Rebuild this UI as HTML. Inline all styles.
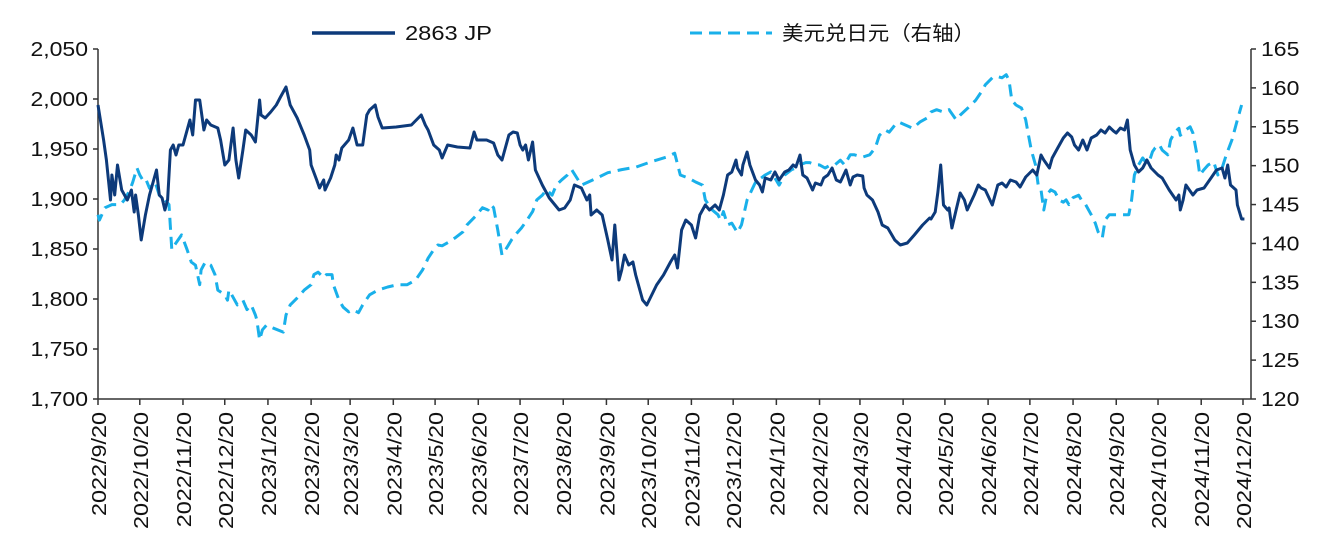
<!DOCTYPE html>
<html><head><meta charset="utf-8"><style>
html,body{margin:0;padding:0;background:#fff;}
svg{display:block;font-family:"Liberation Sans","Noto Sans CJK SC",sans-serif;}
</style></head><body>
<svg id="chart" width="1323" height="543" viewBox="0 0 1323 543" xmlns="http://www.w3.org/2000/svg">
<g id="legend">
<g><line x1="312" y1="33" x2="395" y2="33" stroke="#0d3a7a" stroke-width="3.5"/><text x="405" y="40" font-size="20" fill="#111" textLength="87" lengthAdjust="spacingAndGlyphs">2863 JP</text></g>
<g><line x1="690" y1="33" x2="772" y2="33" stroke="#19b0ea" stroke-width="3" stroke-dasharray="12,7"/><text x="782" y="40" font-size="20" fill="#111" textLength="193" lengthAdjust="spacingAndGlyphs">美元兑日元（右轴）</text></g>
</g>
<g id="axes"></g>
<g id="plot"></g>
</svg>
<script>
const tickLeft=[1700,1750,1800,1850,1900,1950,2000,2050];
const tickRight=[120,125,130,135,140,145,150,155,160,165];
const monthLabels=["2022/9/20","2022/10/20","2022/11/20","2022/12/20","2023/1/20","2023/2/20","2023/3/20","2023/4/20","2023/5/20","2023/6/20","2023/7/20","2023/8/20","2023/9/20","2023/10/20","2023/11/20","2023/12/20","2024/1/20","2024/2/20","2024/3/20","2024/4/20","2024/5/20","2024/6/20","2024/7/20","2024/8/20","2024/9/20","2024/10/20","2024/11/20","2024/12/20"];
// days since 2022-09-20
const stockDays=[0,4,6,9,10,12,14,17,19,21,24,26,27,29,31,34,37,40,42,44,46,48,50,52,54,56,58,61,66,68,70,73,76,78,81,86,88,91,94,97,99,101,104,106,110,113,116,117,120,124,128,131,135,138,143,148,152,153,157,159,162,163,167,170,171,173,175,180,183,186,190,193,195,199,201,204,214,225,232,235,237,241,245,247,251,258,267,270,272,279,284,287,290,295,298,301,303,305,307,309,312,314,319,324,331,335,339,342,347,351,353,354,358,362,366,369,371,374,376,378,381,384,386,391,394,401,406,411,414,416,419,422,426,429,432,436,439,443,446,449,452,455,458,459,462,463,466,468,472,475,477,479,483,486,489,493,496,499,501,504,506,509,513,515,519,521,524,527,530,533,537,540,542,545,549,550,552,556,560,563,567,572,576,581,586,592,597,598,601,603,605,607,610,611,613,616,619,622,624,629,632,634,637,642,646,649,652,655,659,662,666,671,674,677,679,683,685,689,693,696,699,701,704,707,710,713,717,720,723,726,729,731,734,737,739,741,744,747,750,753,756,761,764,769,774,776,777,779,781,786,789,794,799,803,807,809,811,813,817,818,821,823];
const stockValues=[1994,1959,1939,1899,1924,1904,1934,1909,1904,1899,1909,1887,1904,1884,1859,1884,1904,1919,1929,1904,1901,1889,1899,1949,1954,1944,1954,1954,1979,1964,1999,1999,1969,1979,1974,1971,1959,1934,1939,1971,1939,1921,1949,1969,1964,1957,1999,1984,1981,1987,1994,2002,2012,1994,1981,1964,1949,1934,1919,1911,1919,1909,1921,1934,1944,1939,1951,1959,1971,1954,1954,1984,1989,1994,1982,1971,1972,1974,1984,1974,1969,1954,1949,1941,1954,1952,1951,1967,1959,1959,1956,1944,1939,1964,1967,1966,1954,1949,1954,1939,1957,1929,1914,1901,1889,1891,1899,1914,1911,1899,1904,1884,1889,1884,1859,1839,1874,1819,1829,1844,1834,1837,1824,1799,1794,1814,1824,1837,1844,1831,1869,1879,1874,1861,1884,1894,1889,1894,1889,1904,1924,1927,1939,1931,1924,1934,1947,1934,1919,1914,1907,1921,1919,1927,1919,1927,1929,1934,1932,1944,1924,1921,1909,1916,1914,1921,1924,1931,1919,1917,1929,1914,1922,1924,1923,1911,1904,1899,1887,1874,1871,1859,1854,1856,1864,1874,1881,1880,1887,1907,1934,1894,1889,1891,1871,1889,1906,1899,1889,1904,1914,1911,1909,1894,1914,1916,1912,1919,1917,1912,1922,1929,1924,1944,1939,1931,1941,1951,1961,1966,1962,1954,1949,1959,1949,1961,1964,1969,1966,1972,1968,1966,1971,1969,1979,1949,1934,1927,1931,1939,1931,1924,1921,1909,1899,1904,1889,1899,1914,1904,1909,1911,1921,1929,1931,1921,1934,1914,1909,1894,1880,1880];
const yenDays=[0,1,5,10,16,19,23,25,28,30,32,34,37,41,44,48,51,53,55,60,64,67,70,73,74,77,81,84,86,91,93,94,96,100,104,107,110,113,114,116,118,121,126,133,135,138,143,148,153,155,158,162,164,168,169,173,176,180,183,187,190,195,201,208,215,222,228,233,237,241,244,247,252,257,262,265,271,276,280,282,284,287,290,294,297,301,304,308,312,315,319,322,326,329,333,337,340,347,358,366,376,386,397,408,414,418,424,429,434,436,441,445,447,449,452,455,459,462,466,471,473,476,479,483,486,489,493,498,501,504,508,511,515,518,522,525,529,533,536,540,543,549,554,558,561,565,568,572,575,580,585,590,595,598,602,607,611,616,619,625,630,635,637,642,645,649,652,654,656,659,663,666,668,670,673,675,677,679,681,684,687,690,693,695,697,700,704,706,709,713,716,718,721,723,726,730,736,740,742,744,747,750,752,755,757,759,762,764,768,770,773,776,777,781,784,786,789,791,794,797,801,804,807,810,814,818,821];
const yenValues=[143.7,143.0,144.6,145.0,145.0,145.6,146.9,147.9,149.7,148.8,148.2,148.4,147.1,147.9,146.2,145.6,145.0,139.2,139.8,141.1,139.2,137.6,137.2,134.7,136.6,137.6,137.2,136.0,134.0,133.4,132.7,134.0,133.4,132.1,132.7,131.5,132.1,130.8,130.2,127.6,128.9,129.5,129.1,128.6,130.8,132.1,133.0,134.0,134.7,136.0,136.3,135.6,136.0,136.0,134.7,132.7,131.8,131.2,131.5,131.1,132.1,133.4,134.0,134.4,134.7,134.7,135.3,136.6,138.1,139.2,139.8,139.7,140.2,140.8,141.5,142.4,143.5,144.6,144.3,145.0,144.6,141.7,138.5,139.6,140.5,141.4,142.0,143.0,144.1,145.6,146.2,146.9,146.2,147.5,148.2,148.8,149.5,147.5,148.4,149.1,149.5,149.8,150.5,151.1,151.6,148.8,148.4,147.9,147.5,145.6,144.3,143.7,143.0,144.1,142.4,142.6,141.4,142.4,145.6,147.5,148.2,148.4,148.8,149.2,148.4,147.5,148.8,149.5,149.7,150.1,150.4,150.4,150.1,150.1,149.7,150.0,150.1,150.7,150.1,151.4,151.4,151.1,151.4,152.3,153.9,154.6,154.3,155.2,155.6,155.2,154.8,155.6,156.1,156.9,157.2,156.9,157.2,155.9,156.5,157.5,158.4,159.7,160.4,161.3,161.5,161.3,161.7,161.0,158.4,157.8,157.4,155.9,153.9,152.0,150.1,147.5,146.9,144.3,146.2,146.9,146.6,145.6,145.3,145.6,145.0,145.9,146.2,145.6,145.0,143.7,142.6,141.5,140.7,143.0,143.7,143.7,143.7,143.7,145.6,148.8,150.1,151.0,150.5,150.7,151.8,152.3,152.7,152.0,151.4,153.3,154.3,154.8,153.9,154.6,155.0,154.2,151.4,148.8,149.5,150.1,150.5,148.8,149.7,151.4,153.3,155.9,157.8];
const monthDays=[0,30,61,91,122,153,181,212,242,273,303,334,365,395,426,456,487,518,547,578,608,639,669,700,731,761,792,822];

const NS="http://www.w3.org/2000/svg";
const L=98,R=1251,T=49,B=399;
const xS=d=>98+d*(1243-98)/822;
const yL=v=>B-(v-1700)/(2050-1700)*(B-T);
const yR=v=>B-(v-120)/(165-120)*(B-T);
function mk(tag,attrs,parent){const e=document.createElementNS(NS,tag);for(const k in attrs)e.setAttribute(k,attrs[k]);parent.appendChild(e);return e;}
const axes=document.getElementById('axes'),plot=document.getElementById('plot');
let e;
e=mk('line',{x1:L,y1:T,x2:L,y2:B,stroke:'#333','stroke-width':1.5},axes);


e=mk('line',{x1:R,y1:T,x2:R,y2:B,stroke:'#333','stroke-width':1.5},axes);


e=mk('line',{x1:L,y1:B,x2:R,y2:B,stroke:'#333','stroke-width':1.5},axes);


const SX=1.15;
tickLeft.forEach(v=>{const y=yL(v);
 mk('line',{x1:L-5,y1:y,x2:L,y2:y,stroke:'#333','stroke-width':1.5},axes);
 const t=mk('text',{x:0,y:0,'text-anchor':'end','font-size':20,fill:'#111',transform:`translate(${L-10},${y+7}) scale(${SX},1)`},axes);
 t.textContent=v.toLocaleString('en-US');
 
 });
tickRight.forEach(v=>{const y=yR(v);
 mk('line',{x1:R,y1:y,x2:R+5,y2:y,stroke:'#333','stroke-width':1.5},axes);
 const t=mk('text',{x:0,y:0,'font-size':20,fill:'#111',transform:`translate(${R+10},${y+7}) scale(${SX},1)`},axes);
 t.textContent=v;
 
 });
monthLabels.forEach((lab,i)=>{const x=xS(monthDays[i]);
 mk('line',{x1:x,y1:B,x2:x,y2:B+6,stroke:'#333','stroke-width':1.5},axes);
 const t=mk('text',{x:0,y:0,'text-anchor':'end','font-size':20,fill:'#111',transform:`translate(${x+8},${B+13}) rotate(-90) scale(1.17,1)`},axes);
 t.textContent=lab;
 
 });
function pts(days,vals,ys){const n=Math.min(days.length,vals.length);let s=[];for(let i=0;i<n;i++)s.push(xS(days[i]).toFixed(1)+','+ys(vals[i]).toFixed(1));return s.join(' ');}
e=mk('polyline',{points:pts(yenDays,yenValues,yR),fill:'none',stroke:'#19b0ea','stroke-width':3,'stroke-dasharray':'12,7','stroke-linejoin':'round'},plot);


e=mk('polyline',{points:pts(stockDays,stockValues,yL),fill:'none',stroke:'#0d3a7a','stroke-width':3,'stroke-linejoin':'round'},plot);


</script>
</body></html>
